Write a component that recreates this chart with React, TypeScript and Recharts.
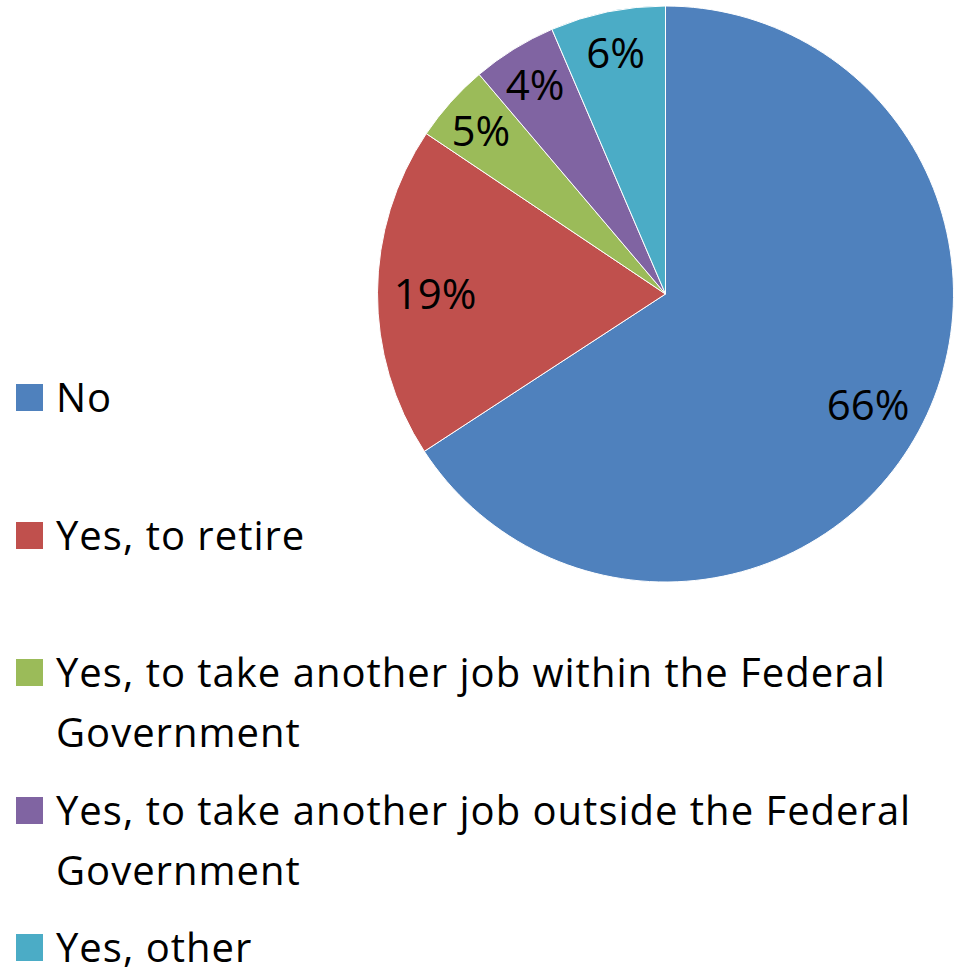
import { Cell, Legend, Pie, PieChart } from 'recharts'

const categories = [
  'No',
  'Yes, to retire',
  'Yes, to take another job within the Federal Government',
  'Yes, to take another job outside the Federal Government',
  'Yes, other'
]
const shares = [65.8, 18.6, 4.4, 4.75, 6.45]
const shareLabels = ['66%', '19%', '5%', '4%', '6%']
const colors = ['#4F81BD', '#C0504D', '#9BBB59', '#8064A2', '#4BACC6']

const data = categories.map((name, i) => ({ name, value: shares[i], label: shareLabels[i] }))

const FONT = '"Open Sans", "Noto Sans", sans-serif'
const RAD = Math.PI / 180

function renderLabel(props: any) {
  const { cx, cy, midAngle, outerRadius, percent, index } = props
  // small slices get their label pushed further out
  const r = outerRadius * (percent < 0.1 ? 0.86 : 0.8)
  const x = cx + r * Math.cos(-midAngle * RAD)
  const y = cy + r * Math.sin(-midAngle * RAD)
  return (
    <text x={x} y={y} textAnchor='middle' dominantBaseline='central' fontSize={42} fontFamily={FONT} fill='#000'>
      {data[index].label}
    </text>
  )
}

function LegendBox() {
  return (
    <div style={{ fontFamily: FONT, fontSize: 40, letterSpacing: 1, color: '#000' }}>
      {data.map((d, i) => (
        <div key={d.name} style={{ position: 'absolute', left: 16, top: 367 + i * 137.5, display: 'flex', alignItems: 'flex-start' }}>
          <div style={{ width: 27, height: 27, background: colors[i], marginTop: 17, marginRight: 13, flexShrink: 0 }} />
          <div style={{ width: 880, lineHeight: '60px' }}>{d.name}</div>
        </div>
      ))}
    </div>
  )
}

export default function App() {
  return (
    <div style={{ position: 'absolute', left: 0, top: 0 }}>
      <PieChart width={961} height={968} margin={{ top: 0, right: 0, bottom: 0, left: 0 }}>
        <Pie
          data={data}
          dataKey='value'
          nameKey='name'
          cx={665.5}
          cy={294}
          outerRadius={288}
          startAngle={90}
          endAngle={-270}
          stroke='#ffffff'
          strokeWidth={1}
          label={renderLabel}
          labelLine={false}
          isAnimationActive={false}
        >
          {data.map((d, i) => (
            <Cell key={d.name} fill={colors[i]} />
          ))}
        </Pie>
        <Legend content={<LegendBox />} wrapperStyle={{ left: 0, top: 0, width: 961, height: 968 }} />
      </PieChart>
    </div>
  )
}
